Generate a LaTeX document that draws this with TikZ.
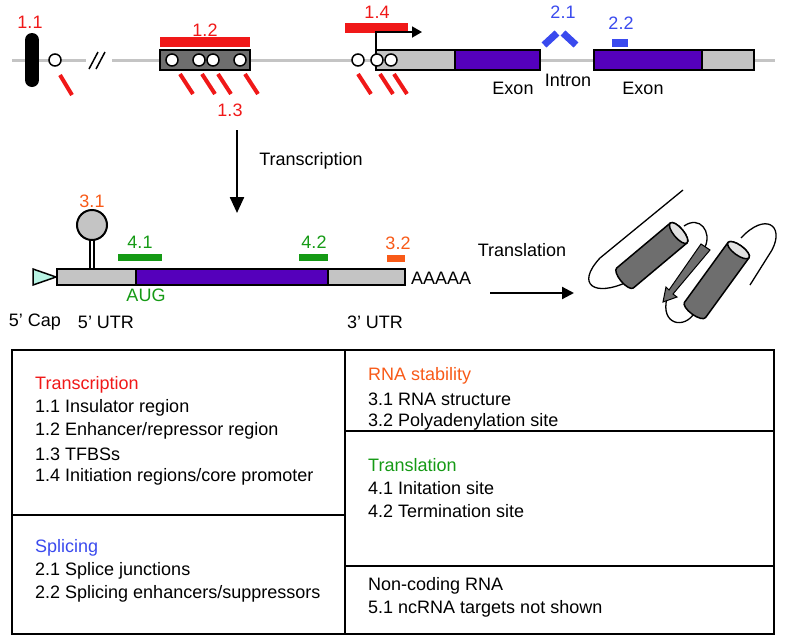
\documentclass[tikz,border=0pt]{standalone}
\usepackage{fontspec}
\setmainfont{Liberation Sans}
\usetikzlibrary{positioning, shapes.geometric, arrows.meta}
\definecolor{tred}{HTML}{F01818}
\definecolor{tblue}{HTML}{3A4AEE}
\definecolor{tpurple}{HTML}{5500BB}
\definecolor{torange}{HTML}{F85A18}
\definecolor{tgreen}{HTML}{159A15}
\definecolor{tgray}{HTML}{C4C4C4}
\definecolor{tdark}{HTML}{6E6E6E}
\definecolor{tcyan}{HTML}{B8F4E4}
\tikzset{
  lbl/.style={inner sep=0pt, font=\fontsize{18}{21}\selectfont},
  site/.style={circle, draw, fill=white, inner sep=0pt, minimum size=12pt, line width=1.5pt},
  tfbs/.style={tred, line width=4pt},
  box/.style={draw, line width=1.6pt},
  helix/.style={draw, fill=tdark, line width=1.5pt},
  loop/.style={line width=1.3pt},
}
\begin{document}
\begin{tikzpicture}[x=1pt, y=-1pt]
  \useasboundingbox (0,0) rectangle (785,643);
  % gene
  \draw[tgray, line width=3pt] (12,60) -- (775,60);
  \fill (32,40) ellipse (7 and 7); \fill (32,80) ellipse (7 and 7);
  \fill (25,40) rectangle (39,80);
  \node[site] at (55,60) {};
  \draw[tfbs] (60,75) -- (72,95);
  \fill[white] (86,50) rectangle (112,70);
  \draw[line width=1.5pt] (89,69) -- (98,52) (96,69) -- (105,52);
  \draw[box, fill=tdark] (160,50) rectangle (250,70);
  \foreach \x in {172,199,213,240} \node[site] at (\x,60) {};
  \fill[tred] (160,37) rectangle (250,47);
  \foreach \x in {180,202,218,245} \draw[tfbs] (\x,74) -- (\x+13,94);
  \node[lbl, tred] at (30,22) {1.1};
  \node[lbl, tred] at (205,30) {1.2};
  \node[lbl, tred] at (230,110) {1.3};
  \draw[box, fill=tgray] (376,50) rectangle (455,70);
  \draw[box, fill=tpurple] (455,50) rectangle (540,70);
  \draw[box, fill=tpurple] (594,50) rectangle (702,70);
  \draw[box, fill=tgray] (702,50) rectangle (754,70);
  \foreach \x in {358,377,391} \node[site] at (\x,60) {};
  \foreach \x in {358,380,394} \draw[tfbs] (\x,74) -- (\x+13,94);
  \fill[tred] (345,23) rectangle (408,33);
  \node[lbl, tred] at (377,12) {1.4};
  \draw[line width=1.8pt, -{Triangle[length=10pt, width=11pt]}] (376,52) -- (376,32) -- (422,32);
  \draw[tblue, line width=7pt] (544,45) -- (557,33) (563,33) -- (576,45);
  \node[lbl, tblue] at (563,12) {2.1};
  \fill[tblue] (612,39) rectangle (628,47);
  \node[lbl, tblue] at (621,23) {2.2};
  \node[lbl] at (513,88) {Exon};
  \node[lbl] at (568,80) {Intron};
  \node[lbl] at (643,88) {Exon};
  % transcription
  \coordinate (tsA) at (237,130);
  \coordinate (tsB) at (237,213);
  \draw[line width=2.4pt, -{Triangle[length=16pt, width=14pt]}] (tsA) -- (tsB);
  \node[lbl] at (311,161) {Transcription};
  % mRNA
  \draw[line width=1.5pt, fill=tcyan] (33,269) -- (56,277) -- (33,285) -- cycle;
  \draw[double=white, double distance=2.5pt, line width=1.5pt] (92,269) -- (92,240);
  \draw[line width=2pt, fill=tgray] (92,225) circle (15);
  \draw[box, fill=tgray] (57,269) rectangle (136,285);
  \draw[box, fill=tpurple] (136,269) rectangle (328,285);
  \draw[box, fill=tgray] (328,269) rectangle (405,285);
  \node[lbl, torange] at (92,201) {3.1};
  \fill[tgreen] (118,254) rectangle (162,261);
  \node[lbl, tgreen] at (140,242) {4.1};
  \fill[tgreen] (299,254) rectangle (328,261);
  \node[lbl, tgreen] at (314,242) {4.2};
  \fill[torange] (387,255) rectangle (405,262);
  \node[lbl, torange] at (398,243) {3.2};
  \node[lbl, tgreen] at (146,295) {AUG};
  \node[lbl, anchor=west] at (411,278) {AAAAA};
  \node[lbl] at (35,322) {5’ Cap};
  \node[lbl] at (106,322) {5’ UTR};
  \node[lbl] at (375,322) {3’ UTR};
  % translation
  \coordinate (tlA) at (490,293);
  \coordinate (tlB) at (574,293);
  \draw[line width=2.2pt, -{Triangle[length=12pt, width=12pt]}] (tlA) -- (tlB);
  \node[lbl] at (522,250) {Translation};
  % protein
  \draw[loop] (683,190) -- (600,258) .. controls (575,285) and (595,297) .. (627,282);
  \draw[loop] (684,226) .. controls (700,215) and (712,232) .. (705,247);
  \draw[loop] (667,298) .. controls (660,325) and (685,330) .. (695,312);
  \draw[loop] (741,238) .. controls (765,212) and (785,225) .. (772,250) -- (750,285);
  \begin{scope}[shift={(625,278)}, rotate=40]
    \draw[helix] (0,-13) -- (70,-13) arc (-90:90:5 and 13) -- (0,13) arc (90:270:5 and 13) -- cycle;
    \draw[line width=1.5pt, fill=tgray!50] (70,0) ellipse (5 and 13);
  \end{scope}
  \begin{scope}[shift={(695,310)}, rotate=54]
    \draw[helix] (0,-13) -- (74,-13) arc (-90:90:5 and 13) -- (0,13) arc (90:270:5 and 13) -- cycle;
    \draw[line width=1.5pt, fill=tgray!50] (74,0) ellipse (5 and 13);
  \end{scope}
  \draw[helix, line width=1pt] (701,244) -- (710,250) -- (673,294) -- (677,297) -- (663,302) -- (666,287) -- (669,290) -- cycle;
  % table
  \draw[line width=1.5pt] (12,350) rectangle (774,634);
  \draw[line width=1.5pt] (345,350) -- (345,634);
  \draw[line width=1.5pt] (12,515) -- (345,515);
  \draw[line width=1.5pt] (345,431) -- (774,431);
  \draw[line width=1.5pt] (345,566) -- (774,566);
  \begin{scope}[every node/.style={lbl, anchor=west}]
    \node[tred] at (35,385) {Transcription};
    \node at (35,408) {1.1 Insulator region};
    \node at (35,431) {1.2 Enhancer/repressor region};
    \node at (35,454) {1.3 TFBSs};
    \node at (35,477) {1.4 Initiation regions/core promoter};
    \node[tblue] at (35,548) {Splicing};
    \node at (35,571) {2.1 Splice junctions};
    \node at (35,594) {2.2 Splicing enhancers/suppressors};
    \node[torange] at (368,376) {RNA stability};
    \node at (368,399) {3.1 RNA structure};
    \node at (368,422) {3.2 Polyadenylation site};
    \node[tgreen] at (368,465) {Translation};
    \node at (368,488) {4.1 Initation site};
    \node at (368,511) {4.2 Termination site};
    \node at (368,586) {Non-coding RNA};
    \node at (368,609) {5.1 ncRNA targets not shown};
  \end{scope}
\end{tikzpicture}
\end{document}
